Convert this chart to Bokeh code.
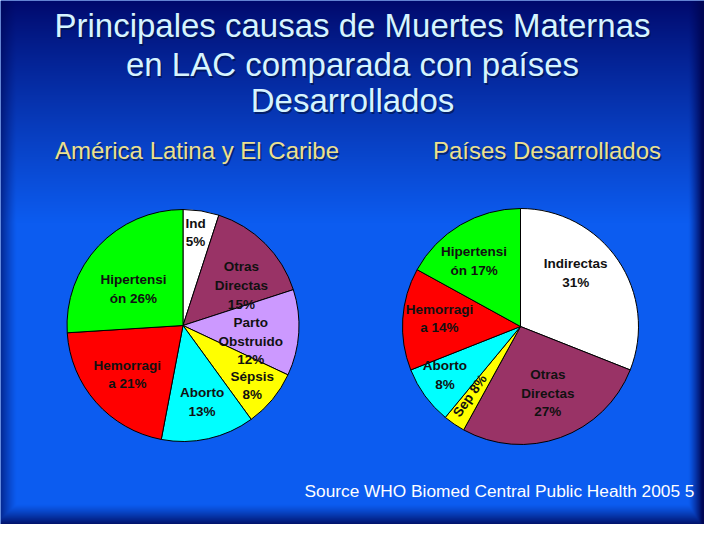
import numpy as np
from bokeh.plotting import figure
from bokeh.models import Range1d, ColumnDataSource
from bokeh.core.properties import value
from bokeh.embed import file_html
from bokeh.resources import INLINE

# ---------------- data ----------------
title_lines = ["Principales causas de Muertes Maternas",
               "en LAC comparada con países",
               "Desarrollados"]
subtitle_lac = "América Latina y El Caribe"
subtitle_dev = "Países Desarrollados"
source_note = "Source WHO Biomed Central Public Health 2005 5"

lac_causes = ["Ind", "Otras Directas", "Parto Obstruido", "Sépsis", "Aborto", "Hemorragia", "Hipertensión"]
lac_values = [5, 15, 12, 8, 13, 21, 26]
lac_labels = ["Ind\n5%", "Otras\nDirectas\n15%", "Parto\nObstruido\n12%", "Sépsis\n8%",
              "Aborto\n13%", "Hemorragi\na 21%", "Hipertensi\nón 26%"]

dev_causes = ["Indirectas", "Otras Directas", "Sépsis", "Aborto", "Hemorragia", "Hipertensión"]
dev_values = [31, 27, 3, 8, 14, 17]
dev_labels = ["Indirectas\n31%", "Otras\nDirectas\n27%", "Sep  8%", "Aborto\n8%",
              "Hemorragi\na 14%", "Hipertensi\nón 17%"]

# ---------------- styles ----------------
colors = {"Ind": "#ffffff", "Indirectas": "#ffffff", "Otras Directas": "#993366",
          "Parto Obstruido": "#cc99ff", "Sépsis": "#ffff00", "Aborto": "#00ffff",
          "Hemorragia": "#ff0000", "Hipertensión": "#00ff00"}
FONT = value("Liberation Sans")

W, H = 704, 524
p = figure(width=W, height=H, x_range=Range1d(8, 712), y_range=Range1d(8, 532),
           output_backend="svg", toolbar_location=None, min_border=0,
           x_axis_location=None, y_axis_location=None)
p.grid.visible = False
p.outline_line_color = None
p.background_fill_color = "#0c5cf0"
p.border_fill_color = "#0c5cf0"

# ---------------- background gradient ----------------
rows = np.arange(H)
yref = 540 - (8 + rows + 0.5)  # screen y of each image row
xref = 8 + np.arange(W) + 0.5
YY, XX = np.meshgrid(yref, xref, indexing="ij")
top = np.array([0, 4, 100], float)
mid = np.array([12, 92, 240], float)
t = np.clip(YY / 230.0, 0, 1) ** 0.85
col = top[None, None, :] * (1 - t[..., None]) + mid[None, None, :] * t[..., None]
dl = np.clip((24 - XX) / 24.0, 0, 1)
dr = np.clip((XX - 696) / 14.0, 0, 1)
db = np.clip((YY - 512) / 22.0, 0, 1)
d = np.maximum(np.maximum(dl, dr), db)[..., None] ** 1.2
dark = np.array([0, 6, 85], float)
col = col * (1 - d) + dark[None, None, :] * d
img = np.zeros((H, W, 4), dtype=np.uint8)
img[..., :3] = np.clip(col, 0, 255).astype(np.uint8)
img[..., 3] = 255
p.image_rgba(image=[img.view(dtype=np.uint32).reshape((H, W))], x=8, y=8, dw=W, dh=H)


# ---------------- pies ----------------
def pie(cx, cy, r, causes, vals, labels, nudges, rot):
    vals = np.array(vals, float)
    cum = np.cumsum(vals) / vals.sum()
    prev = np.concatenate([[0], cum[:-1]])
    start = np.pi / 2 - 2 * np.pi * prev
    end = np.pi / 2 - 2 * np.pi * cum
    src = ColumnDataSource(dict(x=[cx] * len(vals), y=[cy] * len(vals),
                                start=start, end=end,
                                color=[colors[c] for c in causes]))
    p.wedge(x="x", y="y", radius=r, start_angle="start", end_angle="end",
            direction="clock", fill_color="color", line_color="black",
            line_width=1, source=src)
    mids = 360 * (prev + cum) / 2
    lx, ly = [], []
    for m, (fr, dt) in zip(mids, nudges):
        th = np.radians(m + dt)
        lx.append(cx + fr * r * np.sin(th))
        ly.append(cy + fr * r * np.cos(th))
    lsrc = ColumnDataSource(dict(x=lx, y=ly, text=labels, angle=rot))
    p.text(x="x", y="y", text="text", angle="angle", source=lsrc,
           text_align="center", text_baseline="middle", text_font=FONT,
           text_font_size="13.5px", text_font_style="bold", text_color="#111111",
           text_line_height=1.25)


pie(190.5, 540 - 333, 116, lac_causes, lac_values, lac_labels,
    [(0.81, -1.3), (0.61, 10.6), (0.60, 9.4), (0.79, 1.4), (0.68, -1.4), (0.64, 0), (0.53, -7)],
    [0] * 7)
pie(528, 540 - 334, 118, dev_causes, dev_values, dev_labels,
    [(0.65, -9.8), (0.61, -2.5), (0.71, 2.0), (0.76, 3.4), (0.69, 2), (0.68, -4.8)],
    [0, 0, np.radians(55), 0, 0, 0])

# ---------------- titles ----------------
ty = [540 - 33, 540 - 72, 540 - 108]
p.text(x=[361.5] * 3, y=[v - 1.5 for v in ty], text=title_lines, text_align="center",
       text_baseline="middle", text_font=FONT, text_font_size="33px",
       text_color="#00103a", text_alpha=0.6)
p.text(x=[360] * 3, y=ty, text=title_lines, text_align="center",
       text_baseline="middle", text_font=FONT, text_font_size="33px",
       text_color="#d6f4ff")

sx = [204.5, 554.5]
sy = [540 - 158] * 2
subs = [subtitle_lac, subtitle_dev]
p.text(x=[v + 1.5 for v in sx], y=[v - 1.5 for v in sy], text=subs, text_align="center",
       text_baseline="middle", text_font=FONT, text_font_size="24px",
       text_color="#00103a", text_alpha=0.6)
p.text(x=sx, y=sy, text=subs, text_align="center", text_baseline="middle",
       text_font=FONT, text_font_size="24px", text_color="#ece08e")

p.text(x=[312], y=[540 - 498], text=[source_note], text_align="left",
       text_baseline="middle", text_font=FONT, text_font_size="17.3px",
       text_color="#ffffff")

open("out.html", "w").write(file_html(p, INLINE))
